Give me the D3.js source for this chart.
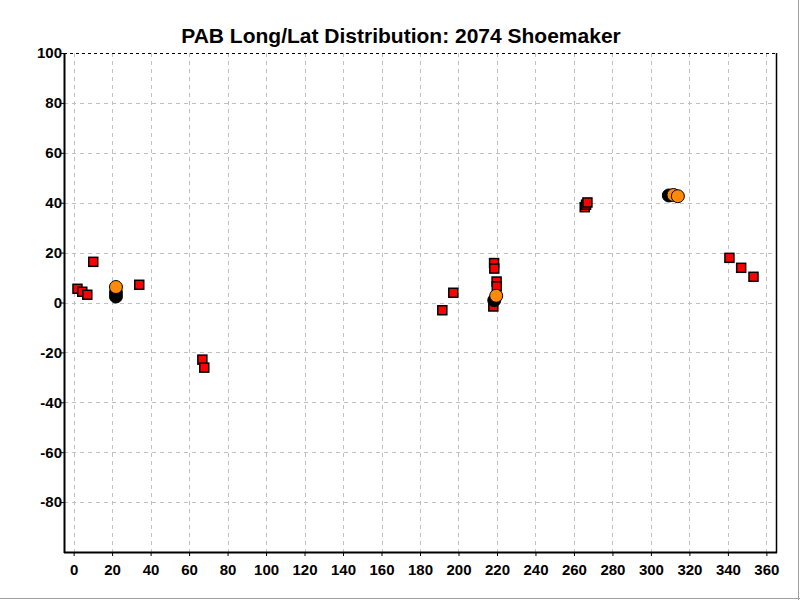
<!DOCTYPE html>
<html>
<head>
<meta charset="utf-8">
<script src="https://cdn.jsdelivr.net/npm/d3@7"></script>
<style>
html,body{margin:0;padding:0;background:#fff;}
svg{display:block;}
text{font-family:Arial,"Liberation Sans",sans-serif;}
</style>
</head>
<body>
<svg id="chart" width="800" height="600"></svg>
<script>
const title = "PAB Long/Lat Distribution: 2074 Shoemaker";
const xTicks = [0,20,40,60,80,100,120,140,160,180,200,220,240,260,280,300,320,340,360];
const yTicks = [100,80,60,40,20,0,-20,-40,-60,-80];
const yGrid = [80,60,40,20,0,-20,-40,-60,-80];

// red squares
const squareLon = [2, 4.5, 7.1, 10.2, 34.1, 66.9, 67.9, 191.6, 197.3, 218.5, 218.6, 219.8, 219.9, 218.1, 265.6, 266.3, 267, 340.8, 346.9, 353.3];
const squareLat = [5.5, 4.3, 3.1, 16.3, 7.1, -22.9, -26.1, -3.1, 3.9, 15.8, 13.6, 8.4, 6.5, -1.6, 38.2, 39.2, 40.1, 17.9, 13.9, 10.3];
// black circles
const blackLon = [22, 22, 218.6, 309.3];
const blackLat = [2.4, 4.0, 0.9, 42.9];
// orange circles
const orangeLon = [22, 219.6, 311.7, 314];
const orangeLat = [6.2, 2.7, 43.1, 42.6];

const svg = d3.select("#chart");
const m = {l:64, r:776, t:53, b:552};
const x = d3.scaleLinear().domain([-5, 365]).range([m.l, m.r]);
const y = d3.scaleLinear().domain([-100, 100]).range([m.b, m.t]);

// outer frame (right/bottom)
svg.append("line").attr("x1",0).attr("x2",800).attr("y1",598.5).attr("y2",598.5).attr("stroke","#a0a0a0");
svg.append("line").attr("x1",798.5).attr("x2",798.5).attr("y1",0).attr("y2",600).attr("stroke","#a0a0a0");

// grid
const g = svg.append("g");
g.selectAll(".vg").data(xTicks).join("line")
  .attr("x1",d=>Math.round(x(d))+0.5).attr("x2",d=>Math.round(x(d))+0.5)
  .attr("y1",m.t).attr("y2",m.b)
  .attr("stroke","#c0c0c0").attr("stroke-dasharray","4,4");
g.selectAll(".hg").data(yGrid).join("line")
  .attr("x1",m.l).attr("x2",m.r)
  .attr("y1",d=>Math.round(y(d))+0.5).attr("y2",d=>Math.round(y(d))+0.5)
  .attr("stroke","#c0c0c0").attr("stroke-dasharray","4,4");

// borders
svg.append("line").attr("x1",m.l).attr("x2",m.r).attr("y1",m.t+0.5).attr("y2",m.t+0.5)
  .attr("stroke","#000").attr("stroke-dasharray","3,3");
svg.append("line").attr("x1",m.r+0.5).attr("x2",m.r+0.5).attr("y1",m.t).attr("y2",m.b+1).attr("stroke","#000").attr("stroke-width",1.5);

// axes
const fmt = d => String(d);
const xAxis = d3.axisBottom(x).tickValues(xTicks).tickFormat(fmt).tickSize(4).tickSizeOuter(0);
const yAxis = d3.axisLeft(y).tickValues(yTicks).tickFormat(fmt).tickSize(4).tickSizeOuter(0);
const gx = svg.append("g").attr("transform",`translate(0,${m.b})`).call(xAxis);
const gy = svg.append("g").attr("transform",`translate(${m.l},0)`).call(yAxis);
[gx,gy].forEach(a=>{
  a.select(".domain").attr("stroke","#000").attr("stroke-width",2);
  a.selectAll(".tick line").attr("stroke","#000");
  a.selectAll(".tick text").attr("fill","#000").style("font-size","15px").style("font-weight","bold")
   .style("font-family","Arial, 'Liberation Sans', sans-serif");
});
gx.select(".domain").attr("d",`M${m.l},0.5H${m.r+1}`);
gy.select(".domain").attr("d",`M0.5,${m.t}V${m.b+1}`);
gx.selectAll(".tick text").attr("dy","1.05em");
gy.selectAll(".tick text").attr("x",-2);

// marks
const squares = squareLon.map((v,i)=>({lon:v, lat:squareLat[i]}));
const blacks = blackLon.map((v,i)=>({lon:v, lat:blackLat[i]}));
const oranges = orangeLon.map((v,i)=>({lon:v, lat:orangeLat[i]}));
const s = 9;
svg.append("g").selectAll("rect").data(squares).join("rect")
  .attr("x",d=>x(d.lon)-s/2).attr("y",d=>y(d.lat)-s/2).attr("width",s).attr("height",s)
  .attr("fill","#ff0000").attr("stroke","#000").attr("stroke-width",1.5);
svg.append("g").selectAll("circle").data(blacks).join("circle")
  .attr("cx",d=>x(d.lon)).attr("cy",d=>y(d.lat)).attr("r",6.5)
  .attr("fill","#000").attr("stroke","#000").attr("stroke-width",1);
svg.append("g").selectAll("circle").data(oranges).join("circle")
  .attr("cx",d=>x(d.lon)).attr("cy",d=>y(d.lat)).attr("r",6.5)
  .attr("fill","#ff8a0a").attr("stroke","#000").attr("stroke-width",1);

// title
svg.append("text").attr("x",401).attr("y",43).attr("text-anchor","middle")
  .style("font-size","21px").style("font-weight","bold").attr("fill","#000").text(title);
</script>
</body>
</html>
